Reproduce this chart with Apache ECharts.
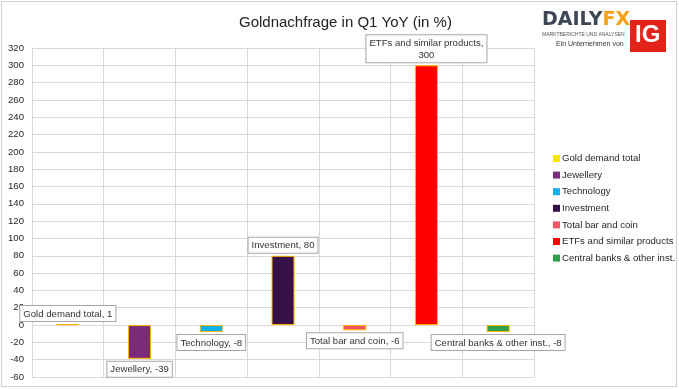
<!DOCTYPE html>
<html><head><meta charset="utf-8">
<script src="https://cdn.jsdelivr.net/npm/echarts@6/dist/echarts.min.js"></script>
<style>html,body{margin:0;padding:0;background:#fff}#c{width:679px;height:389px}</style>
</head><body><div id="c"></div>
<script>
const seriesNames = ['Gold demand total','Jewellery','Technology','Investment','Total bar and coin','ETFs and similar products','Central banks & other inst.'];
const values = [1,-39,-8,80,-6,300,-8];
const colors = ['#FFE600','#7A2C7B','#0FB0EC','#351049','#EE5565','#FF0000','#2FA04C'];
const labelTexts = ['Gold demand total, 1','Jewellery, -39','Technology, -8','Investment, 80','Total bar and coin, -6','ETFs and similar products,\n300','Central banks & other inst., -8'];
const yTicks = {min:-60, max:320, interval:20};

const F = 'Liberation Sans, Arial, sans-serif';
const chart = echarts.init(document.getElementById('c'));
const series = seriesNames.map((name, i) => ({
  name, type:'bar', stack:'s', barWidth:23,
  data: values.map((v, j) => j === i ? v : '-'),
  itemStyle:{color:colors[i], borderColor:'#FFB300', borderWidth:1},
  label:{show:true, position: values[i] >= 0 ? 'top' : 'bottom', distance:3,
    formatter: () => labelTexts[i], color:'#333', fontFamily:F, fontSize:9.6,
    backgroundColor:'#fff', borderColor:'#A6A6A6', borderWidth:1, padding:[2,3,1,3], lineHeight:12, align:'center'},
  emphasis:{disabled:true}
}));
chart.setOption({
  animation:false,
  title:{text:'Goldnachfrage in Q1 YoY (in %)', left:234, top:10, textStyle:{fontFamily:F, fontSize:15, fontWeight:'normal', color:'#222'}},
  legend:{orient:'vertical', left:548, top:148, itemWidth:7, itemHeight:7, itemGap:5.6, icon:'rect',
    itemStyle:{borderWidth:0}, textStyle:{fontFamily:F, fontSize:9.6, lineHeight:11, color:'#262626', padding:[0,0,0,-3]}, data:seriesNames},
  grid:{left:32, right:145, top:48, bottom:12},
  xAxis:{type:'category', data:seriesNames.map(()=>''), axisLabel:{show:false}, axisTick:{show:false},
    axisLine:{show:false}, splitLine:{show:true, lineStyle:{color:'#D9D9D9'}}},
  yAxis:{type:'value', min:yTicks.min, max:yTicks.max, interval:yTicks.interval,
    axisLabel:{fontFamily:F, fontSize:9.6, color:'#262626', margin:8}, axisLine:{show:false}, axisTick:{show:false},
    splitLine:{lineStyle:{color:'#D9D9D9'}}},
  graphic:[
    {type:'rect', shape:{x:1.5, y:1.5, width:675, height:385}, style:{fill:'none', stroke:'#D0D0D0', lineWidth:1}},
    {type:'text', left:542, top:11, style:{rich:{a:{fontFamily:'DejaVu Sans', fontWeight:'bold', fontSize:19, fill:'#3C4655'}, b:{fontFamily:'DejaVu Sans', fontWeight:'bold', fontSize:19, fill:'#F5A01A'}}, text:'{a|DAILY}{b|FX}'}},
    {type:'text', left:542, top:32, style:{text:'MARKTBERICHTE UND ANALYSEN', font:'5px '+F, fill:'#555'}},
    {type:'text', left:556, top:41, style:{text:'Ein Unternehmen von', font:'7px '+F, fill:'#333'}},
    {type:'rect', shape:{x:630, y:20, width:36, height:32}, style:{fill:'#E2231A'}},
    {type:'text', left:635, top:23, style:{text:'IG', font:'bold 24px '+F, fill:'#fff'}}
  ],
  series
});
</script></body></html>
